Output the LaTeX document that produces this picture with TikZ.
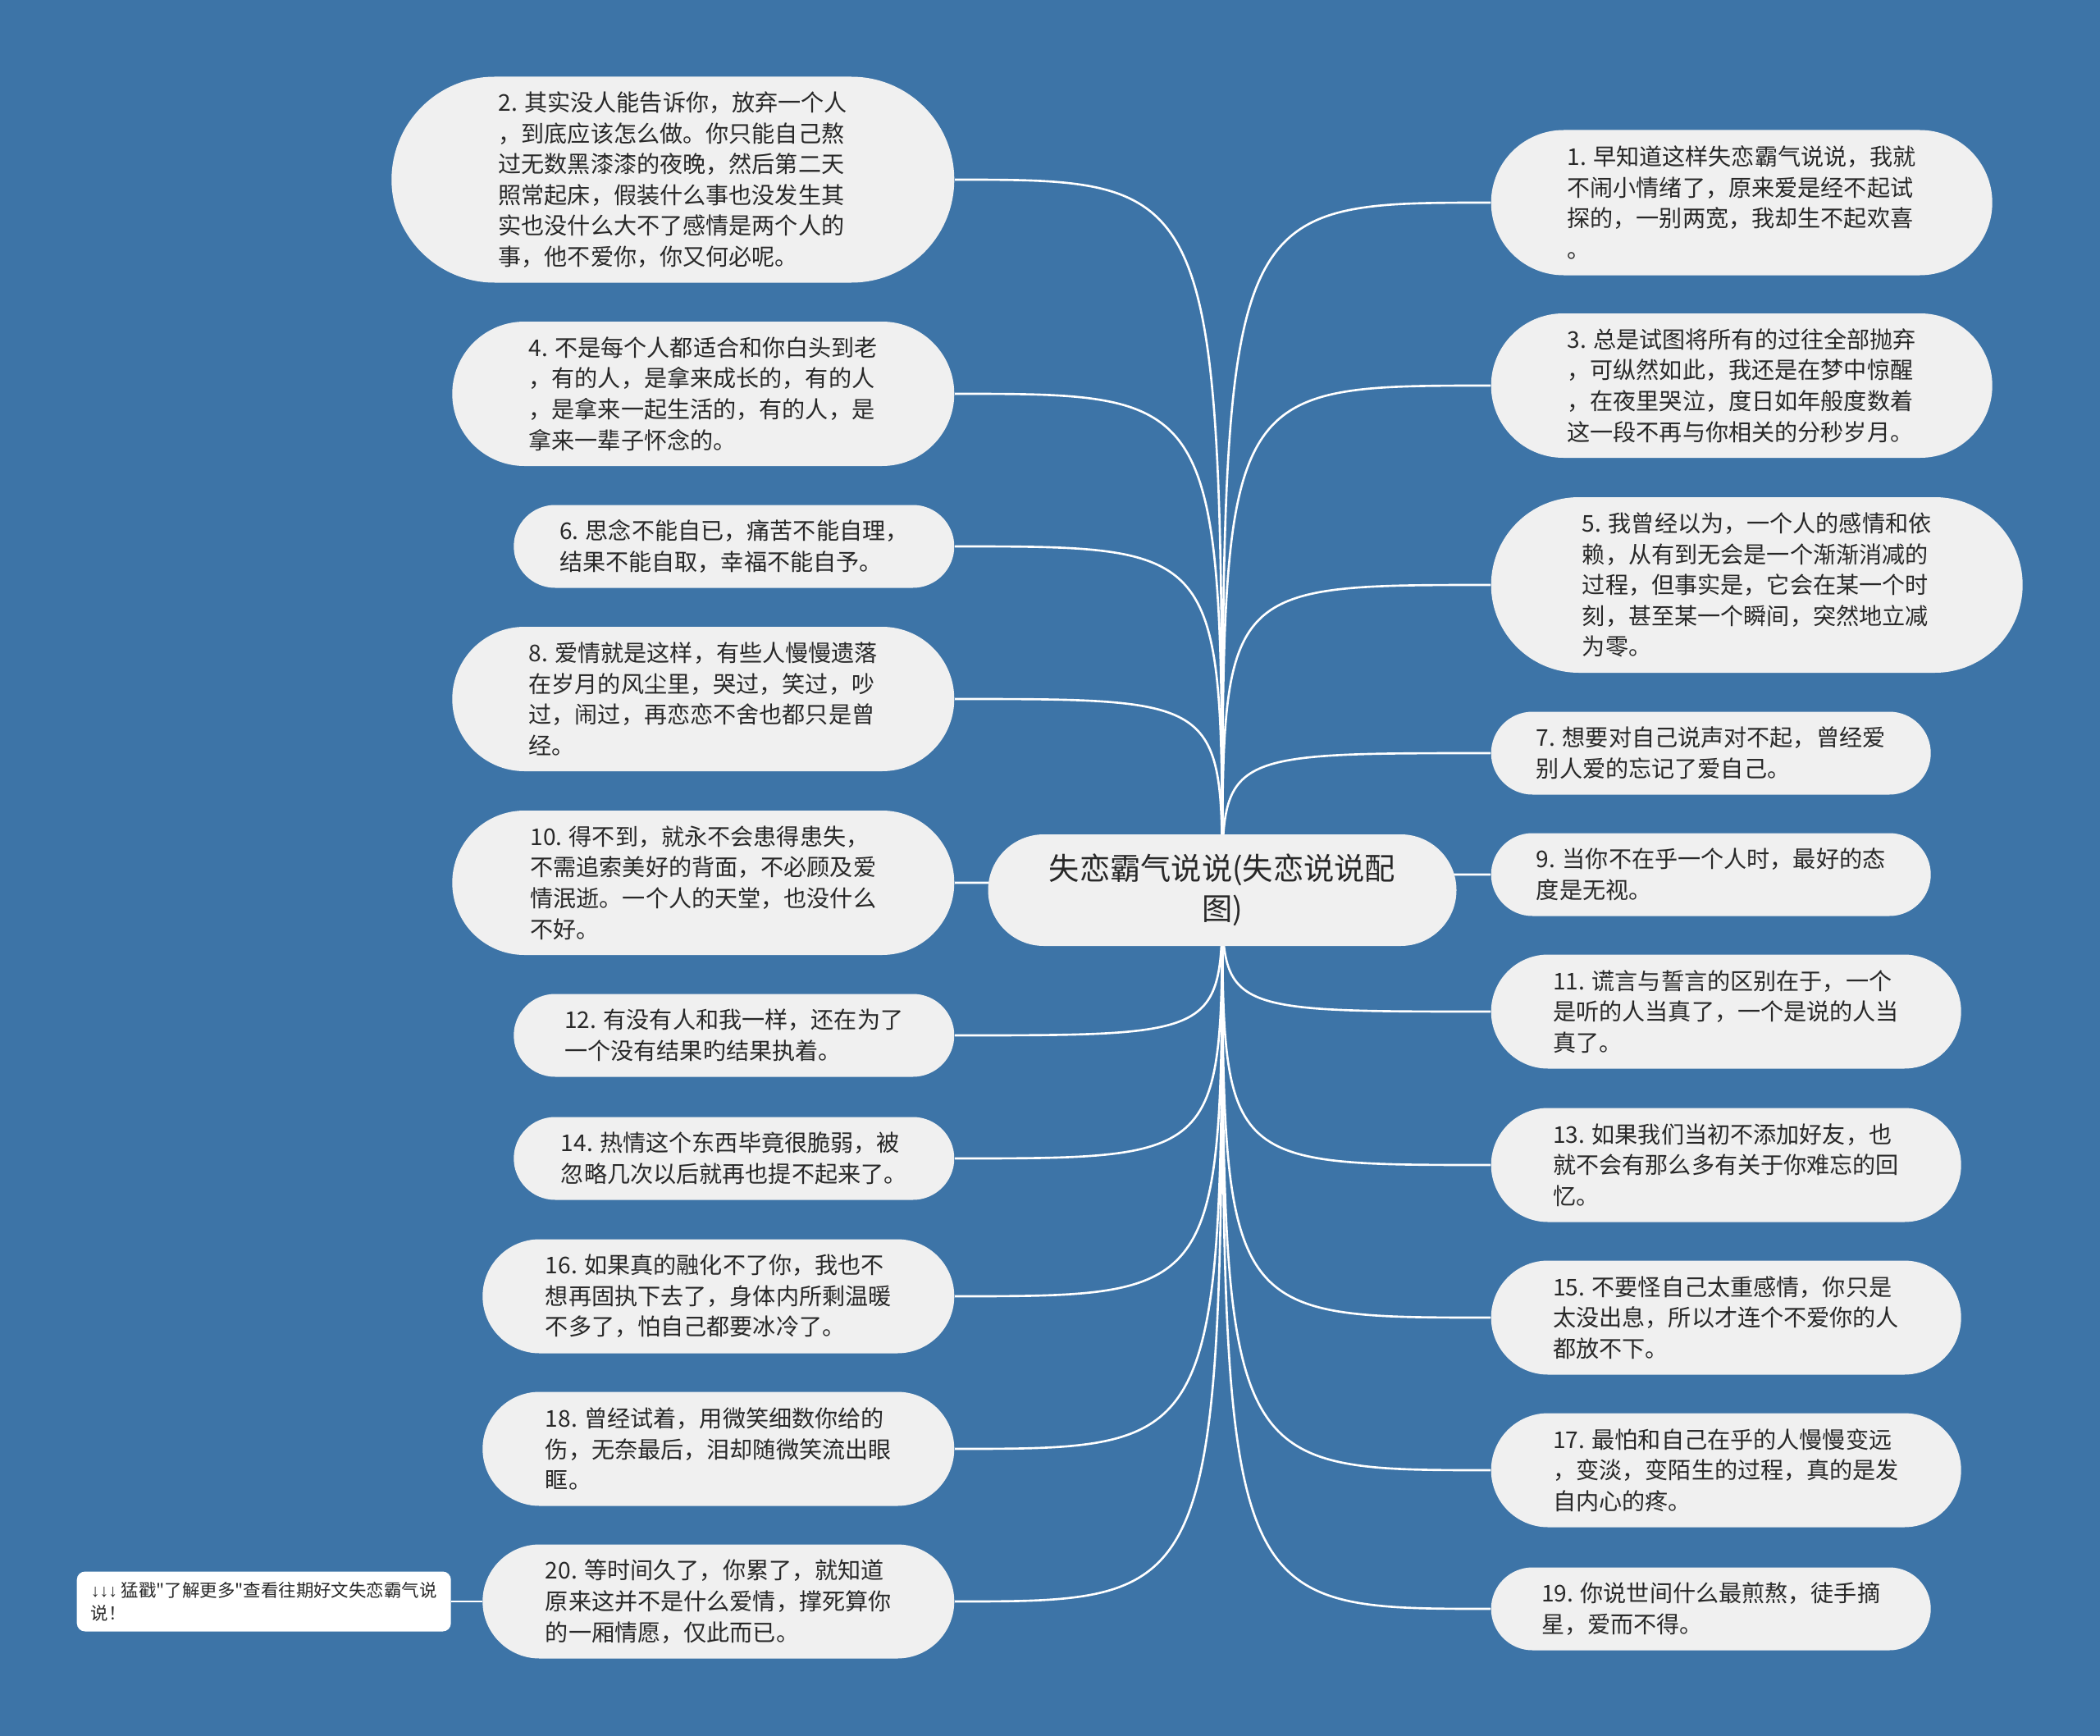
\documentclass[tikz,border=0pt]{standalone}
\usepackage{fontspec}
\setmainfont{Noto Sans CJK SC}
\newfontfamily\tipfont{Noto Sans CJK SC}
\newfontfamily\arrowfont{Liberation Sans}
\usetikzlibrary{backgrounds}
\definecolor{bgblue}{RGB}{61,116,167}
\definecolor{pillgray}{RGB}{240,240,240}
\definecolor{inkgray}{RGB}{40,40,40}

\begin{document}
\begin{tikzpicture}[y=-1cm,
  leaf/.style 2 args={fill=pillgray, text=inkgray, align=left, inner sep=0pt,
    minimum width=#1, minimum height=#2, rounded corners=#2/2,
    font=\fontsize{8pt}{10.7pt}\selectfont},
  link/.style={draw=white, line width=0.75pt}]
  % ---- centre ----
  \node[leaf={5.71cm}{1.36cm}, align=center, font=\fontsize{10.6pt}{13.9pt}\selectfont]
    (root) at (14.90,10.85) {失恋霸气说说(失恋说说配\\图)};
  % ---- left column ----
  \node[leaf={6.86cm}{2.51cm}, anchor=east] (n2) at (11.64,2.19)
    {2. 其实没人能告诉你，放弃一个人\\，到底应该怎么做。你只能自己熬\\过无数黑漆漆的夜晚，然后第二天\\照常起床，假装什么事也没发生其\\实也没什么大不了感情是两个人的\\事，他不爱你，你又何必呢。};
  \node[leaf={6.12cm}{1.76cm}, anchor=east] (n4) at (11.64,4.80)
    {4. 不是每个人都适合和你白头到老\\，有的人，是拿来成长的，有的人\\，是拿来一起生活的，有的人，是\\拿来一辈子怀念的。};
  \node[leaf={5.37cm}{1.01cm}, anchor=east] (n6) at (11.64,6.66)
    {6. 思念不能自已，痛苦不能自理，\\结果不能自取，幸福不能自予。};
  \node[leaf={6.12cm}{1.76cm}, anchor=east] (n8) at (11.64,8.52)
    {8. 爱情就是这样，有些人慢慢遗落\\在岁月的风尘里，哭过，笑过，吵\\过，闹过，再恋恋不舍也都只是曾\\经。};
  \node[leaf={6.12cm}{1.76cm}, anchor=east] (n10) at (11.64,10.76)
    {10. 得不到，就永不会患得患失，\\不需追索美好的背面，不必顾及爱\\情泯逝。一个人的天堂，也没什么\\不好。};
  \node[leaf={5.37cm}{1.01cm}, anchor=east] (n12) at (11.64,12.62)
    {12. 有没有人和我一样，还在为了\\一个没有结果旳结果执着。};
  \node[leaf={5.37cm}{1.01cm}, anchor=east] (n14) at (11.64,14.12)
    {14. 热情这个东西毕竟很脆弱，被\\忽略几次以后就再也提不起来了。};
  \node[leaf={5.75cm}{1.39cm}, anchor=east] (n16) at (11.64,15.80)
    {16. 如果真的融化不了你，我也不\\想再固执下去了，身体内所剩温暖\\不多了，怕自己都要冰冷了。};
  \node[leaf={5.75cm}{1.39cm}, anchor=east] (n18) at (11.64,17.66)
    {18. 曾经试着，用微笑细数你给的\\伤，无奈最后，泪却随微笑流出眼\\眶。};
  \node[leaf={5.75cm}{1.39cm}, anchor=east] (n20) at (11.64,19.52)
    {20. 等时间久了，你累了，就知道\\原来这并不是什么爱情，撑死算你\\的一厢情愿，仅此而已。};
  \node[fill=white, text=inkgray, rounded corners=0.1cm, inner sep=0pt, align=left,
    minimum width=4.56cm, minimum height=0.73cm, anchor=west,
    font=\tipfont\fontsize{6.1pt}{8pt}\selectfont] (tip) at (0.93,19.52)
    {{\arrowfont ↓↓↓} 猛戳"了解更多"查看往期好文失恋霸气说\\说！};
  % ---- right column ----
  \node[leaf={6.11cm}{1.77cm}, anchor=west] (n1) at (18.17,2.47)
    {1. 早知道这样失恋霸气说说，我就\\不闹小情绪了，原来爱是经不起试\\探的，一别两宽，我却生不起欢喜\\。};
  \node[leaf={6.11cm}{1.76cm}, anchor=west] (n3) at (18.17,4.70)
    {3. 总是试图将所有的过往全部抛弃\\，可纵然如此，我还是在梦中惊醒\\，在夜里哭泣，度日如年般度数着\\这一段不再与你相关的分秒岁月。};
  \node[leaf={6.48cm}{2.14cm}, anchor=west] (n5) at (18.17,7.13)
    {5. 我曾经以为，一个人的感情和依\\赖，从有到无会是一个渐渐消减的\\过程，但事实是，它会在某一个时\\刻，甚至某一个瞬间，突然地立减\\为零。};
  \node[leaf={5.36cm}{1.01cm}, anchor=west] (n7) at (18.17,9.18)
    {7. 想要对自己说声对不起，曾经爱\\别人爱的忘记了爱自己。};
  \node[leaf={5.36cm}{1.01cm}, anchor=west] (n9) at (18.17,10.66)
    {9. 当你不在乎一个人时，最好的态\\度是无视。};
  \node[leaf={5.73cm}{1.39cm}, anchor=west] (n11) at (18.17,12.33)
    {11. 谎言与誓言的区别在于，一个\\是听的人当真了，一个是说的人当\\真了。};
  \node[leaf={5.73cm}{1.39cm}, anchor=west] (n13) at (18.17,14.20)
    {13. 如果我们当初不添加好友，也\\就不会有那么多有关于你难忘的回\\忆。};
  \node[leaf={5.73cm}{1.39cm}, anchor=west] (n15) at (18.17,16.06)
    {15. 不要怪自己太重感情，你只是\\太没出息，所以才连个不爱你的人\\都放不下。};
  \node[leaf={5.73cm}{1.39cm}, anchor=west] (n17) at (18.17,17.92)
    {17. 最怕和自己在乎的人慢慢变远\\，变淡，变陌生的过程，真的是发\\自内心的疼。};
  \node[leaf={5.36cm}{1.01cm}, anchor=west] (n19) at (18.17,19.61)
    {19. 你说世间什么最煎熬，徒手摘\\星，爱而不得。};
  % ---- background and links ----
  \begin{scope}[on background layer]
    \fill[bgblue] (0,0) rectangle (25.6,21.16);
    \foreach \n in {n2,n4,n6,n8,n10,n12,n14,n16,n18,n20}
      \draw[link] (root.center) .. controls (root.center |- \n.east) .. (\n.east);
    \foreach \n in {n1,n3,n5,n7,n9,n11,n13,n15,n17,n19}
      \draw[link] (root.center) .. controls (root.center |- \n.west) .. (\n.west);
    \draw[link] (tip.east) -- (n20.west);
  \end{scope}
\end{tikzpicture}
\end{document}
